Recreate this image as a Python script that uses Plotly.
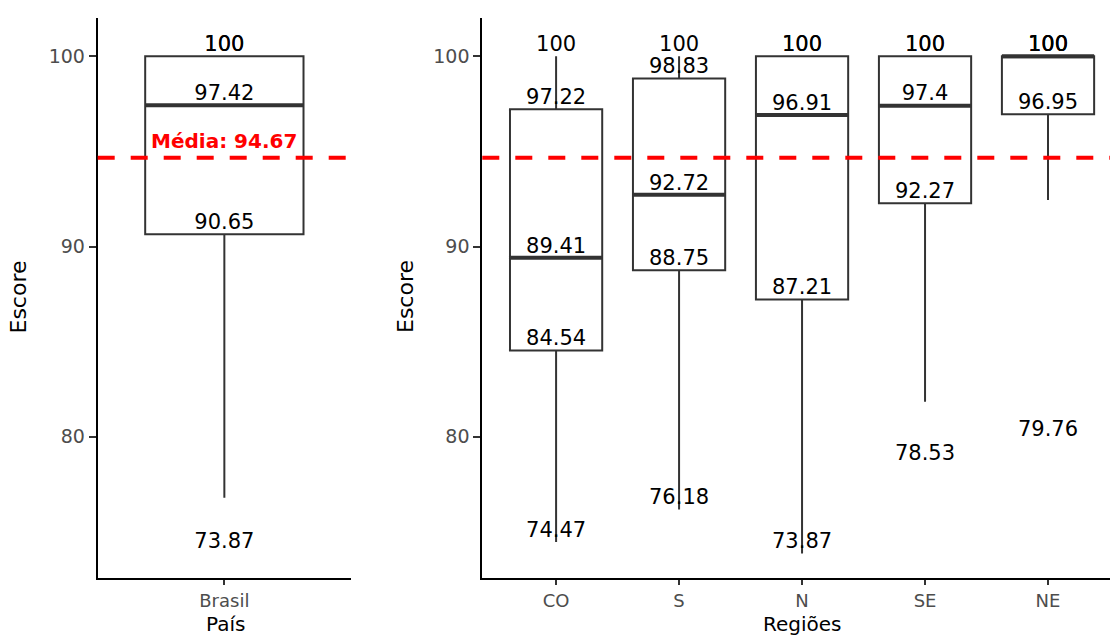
import plotly.graph_objects as go

# ---- data -------------------------------------------------------------
pais = ["Brasil"]
pais_min = [73.87]
pais_lowerfence = [76.8]
pais_q1 = [90.65]
pais_median = [97.42]
pais_q3 = [100]
pais_max = [100]

regioes = ["CO", "S", "N", "SE", "NE"]
reg_min = [74.47, 76.18, 73.87, 78.53, 79.76]
reg_lowerfence = [74.47, 76.18, 73.87, 81.84, 92.45]
reg_q1 = [84.54, 88.75, 87.21, 92.27, 96.95]
reg_median = [89.41, 92.72, 96.91, 97.4, 100]
reg_q3 = [97.22, 98.83, 100, 100, 100]
reg_max = [100, 100, 100, 100, 100]

media = 94.67

# ---- style ------------------------------------------------------------
W, H = 1110, 637
FONT = "DejaVu Sans"
BOX_W = 0.75
BOX_COLOR = "#333333"
TICK_GREY = "#4d4d4d"
Y_RANGE = [72.58, 102.01]

fig = go.Figure()


def add_panel(names, mins, lows, q1s, meds, q3s, maxs, xa, ya):
    pos = list(range(1, len(names) + 1))
    fig.add_trace(go.Box(
        x=pos, q1=q1s, median=meds, q3=q3s,
        lowerfence=lows, upperfence=maxs,
        width=BOX_W, whiskerwidth=0, boxpoints=False,
        line=dict(color=BOX_COLOR, width=2),
        fillcolor="rgba(255,255,255,0)",
        showlegend=False, hoverinfo="skip",
        xaxis=xa, yaxis=ya,
    ))
    # thicker median segments
    mx, my = [], []
    for p, m in zip(pos, meds):
        mx += [p - BOX_W / 2, p + BOX_W / 2, None]
        my += [m, m, None]
    fig.add_trace(go.Scatter(
        x=mx, y=my, mode="lines",
        line=dict(color=BOX_COLOR, width=4),
        showlegend=False, hoverinfo="skip",
        xaxis=xa, yaxis=ya,
    ))
    # value labels for every statistic
    for vals in (maxs, q3s, meds, q1s, mins):
        fig.add_trace(go.Scatter(
            x=pos, y=vals, mode="text",
            text=[f"{v:g}" for v in vals],
            textposition="top center",
            textfont=dict(family=FONT, size=21, color="black"),
            showlegend=False, hoverinfo="skip", cliponaxis=False,
            xaxis=xa, yaxis=ya,
        ))


add_panel(pais, pais_min, pais_lowerfence, pais_q1, pais_median, pais_q3, pais_max, "x", "y")
add_panel(regioes, reg_min, reg_lowerfence, reg_q1, reg_median, reg_q3, reg_max, "x2", "y2")

axis_common = dict(
    showline=True, linecolor="black", linewidth=2,
    ticks="outside", tickwidth=1.5, tickcolor="#333333",
    showgrid=False, zeroline=False,
)
y_ticks = dict(ticklen=7, tickfont=dict(family=FONT, size=19, color=TICK_GREY))
x_ticks = dict(ticklen=5, tickfont=dict(family=FONT, size=18, color=TICK_GREY))

fig.update_layout(
    width=W, height=H,
    margin=dict(l=0, r=0, t=18, b=59),
    paper_bgcolor="white", plot_bgcolor="white",
    xaxis=dict(domain=[97.7 / W, 351 / W], range=[0.4, 1.6],
               tickvals=[1], ticktext=pais, anchor="y", **axis_common, **x_ticks),
    yaxis=dict(domain=[0, 1], range=Y_RANGE, tickvals=[80, 90, 100],
               anchor="x", **axis_common, **y_ticks),
    xaxis2=dict(domain=[482.3 / W, 1], range=[0.4, 5.504],
                tickvals=list(range(1, len(regioes) + 1)), ticktext=regioes,
                anchor="y2", **axis_common, **x_ticks),
    yaxis2=dict(domain=[0, 1], range=Y_RANGE, tickvals=[80, 90, 100],
                anchor="x2", **axis_common, **y_ticks),
)

# dashed mean line across both panels
for xr, yr in (("x domain", "y"), ("x2 domain", "y2")):
    fig.add_shape(type="line", xref=xr, yref=yr, x0=0, x1=1, y0=media, y1=media,
                  line=dict(color="red", width=4, dash="17px,16px"), layer="above")

fig.add_annotation(
    x=1, y=media, xref="x", yref="y", text=f"<b>Média: {media}</b>",
    showarrow=False, yanchor="bottom", yshift=3,
    font=dict(family=FONT, size=20, color="red"),
)

# axis titles
plot_h = H - 18 - 59
y_mid = (578 - 297) / plot_h
for xpix in (17.5, 405):
    fig.add_annotation(
        x=xpix / W, y=y_mid, xref="paper", yref="paper", text="Escore",
        textangle=-90, showarrow=False, xanchor="center", yanchor="middle",
        font=dict(family=FONT, size=22, color="black"),
    )
for xpix, label in ((225.5, "País"), (802.5, "Regiões")):
    fig.add_annotation(
        x=xpix / W, y=(578 - H) / plot_h, xref="paper", yref="paper", text=label,
        showarrow=False, xanchor="center", yanchor="bottom", borderpad=0,
        font=dict(family=FONT, size=20, color="black"),
    )

fig.write_html("out.html")
